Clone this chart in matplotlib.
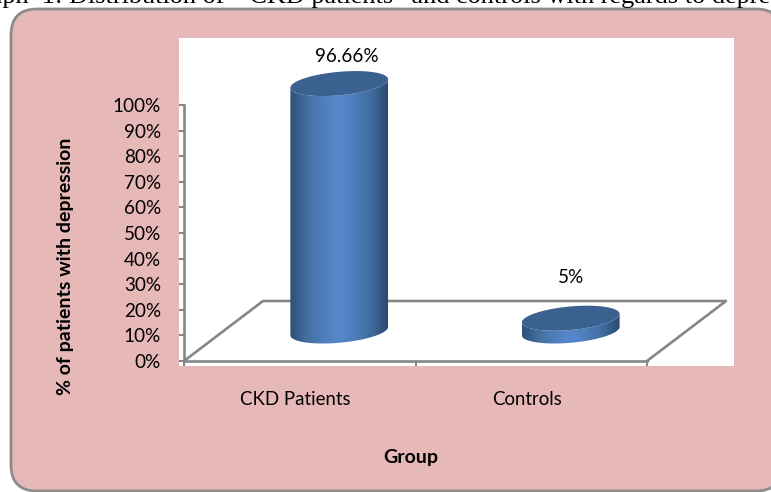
import matplotlib
matplotlib.use('Agg')
import matplotlib.pyplot as plt
import numpy as np
from matplotlib.colors import LinearSegmentedColormap
from matplotlib.patches import FancyBboxPatch, Polygon
from matplotlib.transforms import IdentityTransform

plt.rcParams['font.family'] = ['Lato', 'DejaVu Sans']

groups = ['CKD Patients', 'Controls']
values = [96.66, 5]
value_labels = ['96.66%', '5%']
yticks = [0, 10, 20, 30, 40, 50, 60, 70, 80, 90, 100]
ylabels = ['0%', '10%', '20%', '30%', '40%', '50%', '60%', '70%', '80%', '90%', '100%']
title = 'Graph  1: Distribution of  \u201cCKD patients\u201d and controls with regards to depression'

W, H = 771, 492
GRAY = '#868686'

fig = plt.figure(figsize=(W / 100, H / 100), dpi=100, facecolor='white')

# rounded panel, runs off the right edge like the original
panel = FancyBboxPatch((36, 26), 721, H - 1 - 9 - 50,
                       boxstyle='round,pad=25,rounding_size=26',
                       transform=IdentityTransform(), facecolor='#e6b8b7',
                       edgecolor='#8c8c8c', linewidth=2.0, zorder=-1)
fig.add_artist(panel)

fig.text(-37 / W, 1 - 3.5 / H, title, family='Liberation Serif', fontsize=18.9,
         color='black', ha='left', va='baseline')

# white plot area, limits chosen so 0..2 / 0..100 land on the drawn axes
ax = fig.add_axes([179 / W, 1 - 366 / H, 555 / W, 328 / H], facecolor='white')
ax.set_xlim(-5 / 231.5, 550 / 231.5)
ax.set_ylim(-5 / 2.56, 323 / 2.56)

for s in ['top', 'right']:
    ax.spines[s].set_visible(False)
ax.spines['left'].set_position(('data', 0))
ax.spines['left'].set_bounds(0, 100)
ax.spines['bottom'].set_position(('data', 0))
ax.spines['bottom'].set_bounds(0, 2)
for s in ['left', 'bottom']:
    ax.spines[s].set_color(GRAY)
    ax.spines[s].set_linewidth(1.9)

ax.set_yticks(yticks)
ax.set_yticklabels(ylabels)
ax.set_xticks([0, 1, 2])
ax.set_xticklabels([])
ax.tick_params(axis='y', length=3.6, width=1.5, color=GRAY, pad=13, labelsize=13.6, direction='out')
ax.tick_params(axis='x', length=3.6, width=1.5, color=GRAY, direction='out')

# floor of the 3d box
depth_x = 79 / 231.5
depth_y = 60 / 2.56
ax.plot([0, depth_x, 2 + depth_x, 2], [0, depth_y, depth_y, 0], color=GRAY, lw=1.9, zorder=1, clip_on=False)

# cylinder ellipse sizes in data units
ell_a = 46 / 231.5
ell_dx = 16.5 / 231.5
ell_dy = 12.5 / 2.56
t0 = np.arctan2(ell_dx, ell_a)
cyl_cmap = LinearSegmentedColormap.from_list('cyl', ['#2c4f78', '#42709f', '#4f7fbb', '#5688cc',
                                                     '#4d7db8', '#3f6c9f', '#2a4a70'])


def ellipse(cx, cy, t):
    return cx + np.cos(t) * ell_a + np.sin(t) * ell_dx, cy + np.sin(t) * ell_dy


for i, v in enumerate(values):
    cx = i + 0.5 + depth_x / 2
    cy = depth_y / 2
    half = np.hypot(ell_a, ell_dx)
    t = np.linspace(t0 + np.pi, t0 + 2 * np.pi, 80)
    bx, by = ellipse(cx, cy, t)
    tx, ty = ellipse(cx, cy + v, t[::-1])
    body = Polygon(np.column_stack([np.r_[bx, tx], np.r_[by, ty]]), closed=True,
                   facecolor='none', edgecolor='none', transform=ax.transData)
    ax.add_patch(body)
    im = ax.imshow(np.linspace(0, 1, 128).reshape(1, -1), cmap=cyl_cmap, aspect='auto',
                   extent=[cx - half, cx + half, cy - 2 * ell_dy, cy + v + 2 * ell_dy],
                   zorder=3)
    im.set_clip_path(body)
    x2, y2 = ellipse(cx, cy + v, np.linspace(0, 2 * np.pi, 160))
    ax.fill(x2, y2, color='#3b6190', lw=0, zorder=4)

ax.set_xlim(-5 / 231.5, 550 / 231.5)
ax.set_ylim(-5 / 2.56, 323 / 2.56)

# data labels
label_off = [(8, 27), (0, 41)]
for i, v in enumerate(values):
    cx = i + 0.5 + depth_x / 2
    ax.annotate(value_labels[i], (cx, depth_y / 2 + v), xytext=(label_off[i][0] * 0.72, label_off[i][1] * 0.72),
                textcoords='offset points', ha='center', va='center', fontsize=13.6, color='black',
                annotation_clip=False)

# category labels sit slightly left of the tick centres
for i, g in enumerate(groups):
    ax.annotate(g, (i + 0.5, 0), xytext=(-3.3, -27.5), textcoords='offset points',
                ha='center', va='center', fontsize=13.4, color='black', annotation_clip=False)

fig.text(66 / W, 1 - 266 / H, '% of patients with depression', rotation=90, ha='center', va='center',
         fontsize=14, fontweight='bold', color='black')
fig.text(411 / W, 1 - 457 / H, 'Group', ha='center', va='center', fontsize=14, fontweight='bold', color='black')

fig.savefig('out.png', dpi=100)
